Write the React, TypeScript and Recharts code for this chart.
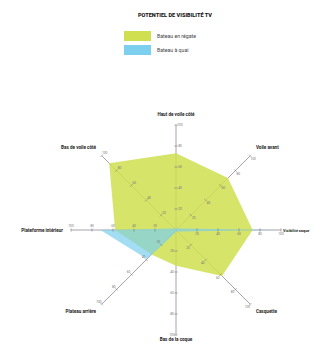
import { RadarChart, Radar, PolarAngleAxis, PolarRadiusAxis, PolarGrid } from 'recharts';

const axes = [
  'Haut de voile côté',
  'Voile avant',
  'Visibilité coque',
  'Casquette',
  'Bas de la coque',
  'Plateau arrière',
  'Plateforme intérieur',
  'Bas de voile côté',
];
const regate = [0.73, 0.7, 0.73, 0.62, 0.34, 0.33, 0.58, 0.9];
const quai = [0.02, 0.02, 0.96, 0.02, 0.02, 0.39, 0.72, 0.02];
const tickValues = [0.2, 0.4, 0.6, 0.8, 1];
const tickLabels = ['20', '40', '60', '80', '100'];

const CX = 176;
const CY = 230;

const data = axes.map((a, i) => {
  const row: any = { axis: a, regate: regate[i], quai: quai[i] };
  tickValues.forEach((t, k) => (row['t' + k] = t));
  return row;
});

const GREEN = '#cfdf4f';
const BLUE = '#7ccfee';

function AxisLabel(props: any) {
  const { x, y, payload } = props;
  const dx = x - CX;
  const dy = y - CY;
  let anchor = 'middle';
  if (dx > 5) anchor = 'start';
  else if (dx < -5) anchor = 'end';
  const isRight = dx > 50 && Math.abs(dy) < 5;
  const isBottom = dy > 50 && Math.abs(dx) < 5;
  return (
    <text
      x={isRight ? 283 : x}
      y={isBottom ? 341 : y + (dy < -5 ? -1 : dy > 5 ? 3 : 1.5)}
      textAnchor={anchor}
      fontSize={isRight ? 3.8 : 4.6}
      fontWeight={700}
      fill="#222"
    >
      {payload.value}
    </text>
  );
}

function makeTickDot(label: string) {
  return (p: any) => {
    const { cx, cy } = p;
    const dx = cx - CX;
    const dy = cy - CY;
    const len = Math.sqrt(dx * dx + dy * dy) || 1;
    const nx = -dy / len;
    const ny = dx / len;
    const h = 1.6;
    return (
      <g key={`${label}-${p.index}`}>
        <line x1={cx - nx * h} y1={cy - ny * h} x2={cx + nx * h} y2={cy + ny * h} stroke="#777" strokeWidth={0.6} />
        <text x={cx + nx * 4} y={cy + ny * 4 + 1.2} textAnchor="middle" fontSize={3.2} fill="#777">
          {label}
        </text>
      </g>
    );
  };
}

export default function App() {
  return (
    <div
      style={{
        position: 'absolute',
        left: 0,
        top: 0,
        width: 314,
        height: 345,
        background: '#fff',
        fontFamily: 'Roboto, sans-serif',
      }}
    >
      <div
        style={{
          position: 'absolute',
          top: 12,
          left: 0,
          width: 350,
          textAlign: 'center',
          fontSize: 5.6,
          fontWeight: 800,
          color: '#111',
        }}
      >
        POTENTIEL DE VISIBILITÉ TV
      </div>
      <div style={{ position: 'absolute', left: 124, top: 30, fontSize: 5.2, color: '#444' }}>
        <div style={{ display: 'flex', alignItems: 'center', height: 11 }}>
          <span style={{ width: 27, height: 10, background: GREEN, display: 'inline-block', marginRight: 6 }} />
          Bateau en régate
        </div>
        <div style={{ display: 'flex', alignItems: 'center', height: 11, marginTop: 3 }}>
          <span style={{ width: 27, height: 10, background: BLUE, display: 'inline-block', marginRight: 6 }} />
          Bateau à quai
        </div>
      </div>
      <div style={{ position: 'absolute', left: 0, top: 0 }}>
        <RadarChart width={314} height={345} data={data} cx={CX} cy={CY} outerRadius={105} margin={{ top: 0, right: 0, bottom: 0, left: 0 }}>
          <PolarGrid gridType="polygon" polarRadius={[]} radialLines stroke="#8f8a98" strokeWidth={0.8} />
          <PolarRadiusAxis domain={[0, 1]} tick={false} axisLine={false} tickLine={false} />
          <PolarAngleAxis dataKey="axis" axisLine={false} tickLine={false} tick={(p: any) => <AxisLabel {...p} />} />
          <Radar
            name="Bateau en régate"
            dataKey="regate"
            stroke="none"
            fill={GREEN}
            fillOpacity={0.85}
            isAnimationActive={false}
          />
          <Radar
            name="Bateau à quai"
            dataKey="quai"
            stroke="none"
            fill={BLUE}
            fillOpacity={0.7}
            isAnimationActive={false}
          />
          {tickValues.map((t, k) => (
            <Radar
              key={t}
              dataKey={'t' + k}
              stroke="none"
              fill="none"
              dot={makeTickDot(tickLabels[k])}
              legendType="none"
              isAnimationActive={false}
            />
          ))}
        </RadarChart>
      </div>
    </div>
  );
}
